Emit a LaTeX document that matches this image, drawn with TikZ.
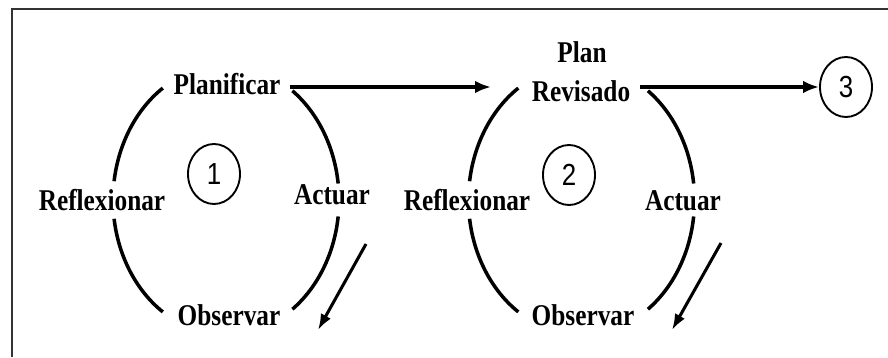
\documentclass[tikz,border=0pt]{standalone}
\usepackage{fontspec}
\newfontfamily\stagefont[FakeStretch=0.84]{Liberation Serif}
\newfontfamily\digitfont[FakeStretch=0.85]{Liberation Sans}
\usetikzlibrary{arrows.meta,shapes.geometric}
\tikzset{
  flow/.style={-{Latex[length=4.8mm,width=3.8mm]}, line width=3pt},
  slant/.style={-{Latex[length=4.8mm,width=3.4mm]}, line width=2.6pt},
  cyclearc/.style={line width=3pt},
  stage/.style={font=\stagefont\bfseries\fontsize{25.7}{28}\selectfont,
    anchor=base, inner sep=8pt},
  num/.style={ellipse, draw, line width=1.6pt, minimum width=1.56cm,
    minimum height=1.8cm, inner sep=0pt,
    font=\digitfont\fontsize{26}{28}\selectfont}
}
\begin{document}
\begin{tikzpicture}[x=0.03cm, y=0.03cm]
  \useasboundingbox (0,0) rectangle (888,357);
  \draw[line width=1.8pt, black!80] (12,0) -- (12,348) -- (888,348);

  % first cycle
  \coordinate (c1) at (226,157);
  \node[stage] (plan1) at (227,262) {Planificar};
  \node[stage] (refl1) at (102,147) {Reflexionar};
  \node[stage] (act1) at (332,153) {Actuar};
  \node[stage] (obs1) at (229,32) {Observar};
  \node[num] (n1) at (214,183) {1};
  \foreach \a/\b in {124/172,188/236,-54/-7,7/54}
    \draw[cyclearc] ([shift={(\a:113 and 135)}]c1)
      arc[start angle=\a, end angle=\b, x radius=113, y radius=135];

  % second cycle
  \coordinate (c2) at (581.5,157);
  \node[stage] (plan2) at (582,294) {Plan};
  \node[stage] (rev2) at (581,255) {Revisado};
  \node[stage] (refl2) at (467,147) {Reflexionar};
  \node[stage] (act2) at (683,147) {Actuar};
  \node[stage] (obs2) at (583,32) {Observar};
  \node[num] (n2) at (569,182) {2};
  \foreach \a/\b in {124/172,188/236,-54/-7,7/54}
    \draw[cyclearc] ([shift={(\a:113 and 135)}]c2)
      arc[start angle=\a, end angle=\b, x radius=113, y radius=135];

  \node[num] (n3) at (846,270) {3};

  \coordinate (in2) at (491,270);
  \draw[flow] (plan1.east |- in2) -- (in2);
  \draw[flow] (n3.west -| rev2.east) -- (n3.west);

  \coordinate (d1s) at (366,113);
  \coordinate (d1e) at (318,27);
  \draw[slant] (d1s) -- (d1e);
  \coordinate (d2s) at (721,114);
  \coordinate (d2e) at (672,27);
  \draw[slant] (d2s) -- (d2e);
\end{tikzpicture}
\end{document}
